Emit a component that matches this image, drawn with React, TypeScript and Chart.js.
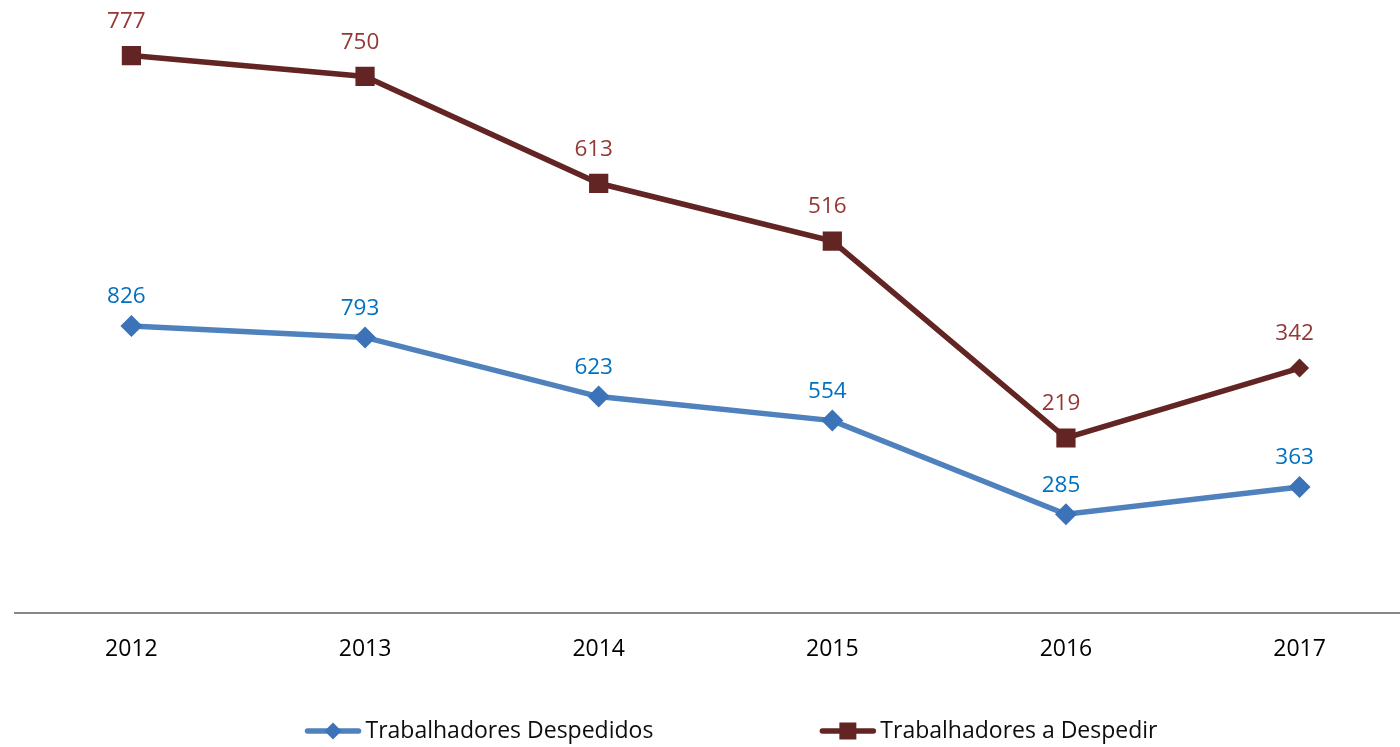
import React, { useEffect, useRef } from "react";
import { Chart, registerables } from "chart.js";

Chart.register(...registerables);

const years = ["2012", "2013", "2014", "2015", "2016", "2017"];
const despedidos = [826, 793, 623, 554, 285, 363];
const aDespedir = [777, 750, 613, 516, 219, 342];
const seriesNames = ["Trabalhadores Despedidos", "Trabalhadores a Despedir"];

const FONT = "'Open Sans', 'Noto Sans', sans-serif";
const BLUE_LINE = "#4F81BD";
const BLUE_MARK = "#3C72B8";
const BLUE_LABEL = "#0070C0";
const RED_LINE = "#632523";
const RED_MARK = "#632523";
const RED_LABEL = "#953735";

const dataLabels = {
  id: "dataLabels",
  afterDatasetsDraw(chart: any) {
    const ctx = chart.ctx;
    ctx.save();
    ctx.font = `22.5px ${FONT}`;
    ctx.textAlign = "center";
    ctx.textBaseline = "middle";
    chart.data.datasets.forEach((ds: any, di: number) => {
      const meta = chart.getDatasetMeta(di);
      ctx.fillStyle = ds.labelColor;
      meta.data.forEach((pt: any, i: number) => {
        ctx.fillText(String(ds.data[i]), pt.x - 5, pt.y - ds.labelOffset);
      });
    });
    ctx.restore();
  },
};

const customLegend = {
  id: "customLegend",
  afterDraw(chart: any) {
    const ctx = chart.ctx;
    const dss = chart.data.datasets;
    ctx.save();
    ctx.font = `23px ${FONT}`;
    const symW = 57;
    const symGap = 4;
    const itemGap = 166;
    const centerX = 731;
    const y = 731;
    const widths = dss.map((ds: any) => ctx.measureText(ds.label).width);
    const total =
      widths.reduce((a: number, w: number) => a + symW + symGap + w, 0) +
      itemGap * (dss.length - 1);
    let x = centerX - total / 2;
    dss.forEach((ds: any, i: number) => {
      ctx.strokeStyle = ds.borderColor;
      ctx.lineWidth = 5.5;
      ctx.lineCap = "round";
      ctx.beginPath();
      ctx.moveTo(x + 3, y);
      ctx.lineTo(x + symW - 3, y);
      ctx.stroke();
      const cx = x + symW / 2;
      ctx.fillStyle = ds.legendMarkColor;
      ctx.beginPath();
      if (ds.legendMarker === "diamond") {
        const r = 8.5;
        ctx.moveTo(cx - r, y);
        ctx.lineTo(cx, y - r);
        ctx.lineTo(cx + r, y);
        ctx.lineTo(cx, y + r);
        ctx.closePath();
      } else {
        const h = 8.5;
        ctx.rect(cx - h, y - h, 2 * h, 2 * h);
      }
      ctx.fill();
      ctx.fillStyle = "#0d0d0d";
      ctx.textAlign = "left";
      ctx.textBaseline = "middle";
      ctx.fillText(ds.label, x + symW + symGap, y);
      x += symW + symGap + widths[i] + itemGap;
    });
    ctx.restore();
  },
};

export default function App() {
  const ref = useRef<HTMLCanvasElement | null>(null);

  useEffect(() => {
    if (!ref.current) return;
    const chart = new Chart(ref.current, {
      type: "line",
      data: {
        labels: years,
        datasets: [
          {
            label: seriesNames[0],
            data: despedidos,
            borderColor: BLUE_LINE,
            backgroundColor: BLUE_MARK,
            borderWidth: 5.5,
            tension: 0,
            fill: false,
            pointStyle: "rectRot",
            pointRadius: 11,
            pointBackgroundColor: BLUE_MARK,
            pointBorderWidth: 0,
            pointHoverRadius: 11,
            labelColor: BLUE_LABEL,
            labelOffset: 29,
            legendMarker: "diamond",
            legendMarkColor: BLUE_MARK,
          } as any,
          {
            label: seriesNames[1],
            data: aDespedir,
            borderColor: RED_LINE,
            backgroundColor: RED_MARK,
            borderWidth: 5.5,
            tension: 0,
            fill: false,
            pointStyle: ["rect", "rect", "rect", "rect", "rect", "rectRot"],
            pointRadius: [13.6, 13.6, 13.6, 13.6, 13.6, 9.5],
            pointBackgroundColor: RED_MARK,
            pointBorderWidth: 0,
            labelColor: RED_LABEL,
            labelOffset: 34,
            legendMarker: "square",
            legendMarkColor: RED_MARK,
          } as any,
        ],
      },
      options: {
        responsive: false,
        animation: false,
        layout: { padding: { left: 14.6, right: 5.4, top: 21.8, bottom: 73.6 } },
        plugins: {
          legend: { display: false },
          tooltip: { enabled: false },
        },
        scales: {
          x: {
            offset: true,
            grid: { display: false, drawTicks: false },
            border: { display: true, color: "#878787", width: 2 },
            ticks: {
              color: "#000000",
              font: { family: FONT, size: 23 },
              padding: 22,
              maxRotation: 0,
            },
            afterFit: (s: any) => {
              s.height = 60;
            },
          },
          y: {
            display: false,
            stacked: true,
            min: 0,
            max: 1700,
          },
        },
      },
      plugins: [dataLabels, customLegend],
    });
    return () => chart.destroy();
  }, []);

  return (
    <div
      style={{
        position: "absolute",
        left: 0,
        top: 0,
        width: 1400,
        height: 747,
        overflow: "hidden",
        background: "#ffffff",
      }}
    >
      <canvas ref={ref} width={1430} height={747} style={{ display: "block" }} />
    </div>
  );
}
